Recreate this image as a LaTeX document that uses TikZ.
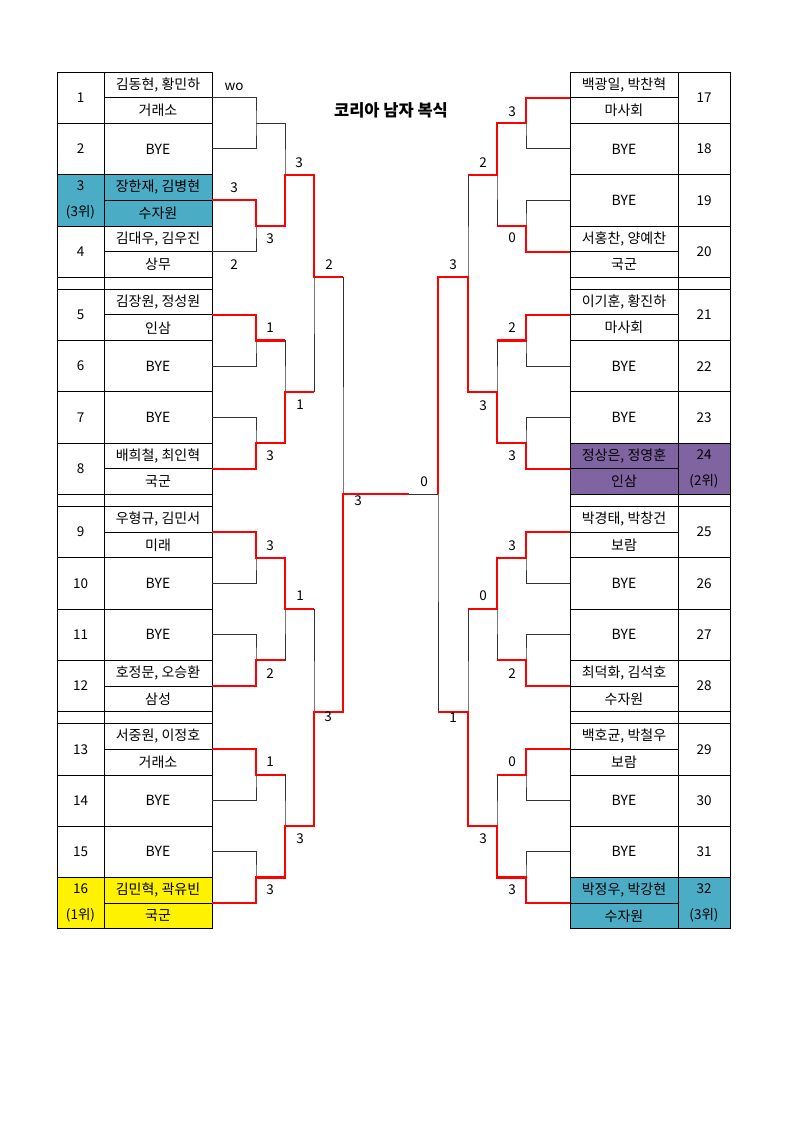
\documentclass[tikz,border=0pt]{standalone}
\usepackage{fontspec}
\setmainfont{Noto Sans CJK KR}
\usetikzlibrary{calc}

\definecolor{teamteal}{HTML}{4BACC6}
\definecolor{teampurple}{HTML}{8064A2}
\definecolor{winred}{HTML}{FF0000}

% top of table row #1 (0..15), four entries per block, small gap row between blocks
\newcommand{\rowy}[1]{(72+217.2*floor((#1)/4)+51.3*mod((#1),4))}

% id, row, number text, players, team, fill
\newcommand{\leftteam}[6]{%
  \node[numcell, minimum width=47, fill=#6] (n#1) at (57,{\rowy{#2}}) {#3};
  \node[namecell, fill=#6] (p#1) at (104,{\rowy{#2}}) {#4};
  \node[namecell, fill=#6] (t#1) at (p#1.south west) {#5};
  \coordinate (e#1) at (p#1.south east);}
\newcommand{\leftbye}[2]{%
  \node[numcell, minimum width=47] (n#1) at (57,{\rowy{#2}}) {#1};
  \node[byecell] (p#1) at (104,{\rowy{#2}}) {BYE};
  \coordinate (e#1) at (p#1.east);}
\newcommand{\rightteam}[6]{%
  \node[namecell, fill=#6] (p#1) at (570,{\rowy{#2}}) {#4};
  \node[namecell, fill=#6] (t#1) at (p#1.south west) {#5};
  \node[numcell, minimum width=52, fill=#6] (n#1) at (678,{\rowy{#2}}) {#3};
  \coordinate (e#1) at (p#1.south west);}
\newcommand{\rightbye}[2]{%
  \node[byecell] (p#1) at (570,{\rowy{#2}}) {BYE};
  \node[numcell, minimum width=52] (n#1) at (678,{\rowy{#2}}) {#1};
  \coordinate (e#1) at (p#1.west);}

\begin{document}
\begin{tikzpicture}[x=1pt, y=-1pt,
  font=\fontsize{14}{17}\selectfont,
  numcell/.style={draw, line width=0.8pt, anchor=north west, minimum height=51.3, inner sep=0pt, outer sep=0pt, align=center, font=\fontsize{13.5}{26}\selectfont},
  namecell/.style={draw, line width=0.8pt, anchor=north west, minimum width=108, minimum height=25.65, inner sep=0pt, outer sep=0pt},
  byecell/.style={namecell, minimum height=51.3},
  gapline/.style={line width=0.8pt},
  bline/.style={line width=1pt, black!80},
  rline/.style={line width=2.1pt, winred},
  score/.style={inner sep=0pt, font=\fontsize{13.5}{16}\selectfont}
]
\useasboundingbox (0,0) rectangle (794,1122);
\fill[white] (0,0) rectangle (794,1122);

\node[font=\bfseries\fontsize{16.5}{19}\selectfont] (title) at (391,110) {코리아 남자 복식};

% left half of the draw
\leftteam{1}{0}{1}{김동현, 황민하}{거래소}{white}
\leftbye{2}{1}
\leftteam{3}{2}{3\\(3위)}{장한재, 김병현}{수자원}{teamteal}
\leftteam{4}{3}{4}{김대우, 김우진}{상무}{white}
\leftteam{5}{4}{5}{김장원, 정성원}{인삼}{white}
\leftbye{6}{5}
\leftbye{7}{6}
\leftteam{8}{7}{8}{배희철, 최인혁}{국군}{white}
\leftteam{9}{8}{9}{우형규, 김민서}{미래}{white}
\leftbye{10}{9}
\leftbye{11}{10}
\leftteam{12}{11}{12}{호정문, 오승환}{삼성}{white}
\leftteam{13}{12}{13}{서중원, 이정호}{거래소}{white}
\leftbye{14}{13}
\leftbye{15}{14}
\leftteam{16}{15}{16\\(1위)}{김민혁, 곽유빈}{국군}{yellow}

% right half of the draw
\rightteam{17}{0}{17}{백광일, 박찬혁}{마사회}{white}
\rightbye{18}{1}
\rightbye{19}{2}
\rightteam{20}{3}{20}{서홍찬, 양예찬}{국군}{white}
\rightteam{21}{4}{21}{이기훈, 황진하}{마사회}{white}
\rightbye{22}{5}
\rightbye{23}{6}
\rightteam{24}{7}{24\\(2위)}{정상은, 정영훈}{인삼}{teampurple}
\rightteam{25}{8}{25}{박경태, 박창건}{보람}{white}
\rightbye{26}{9}
\rightbye{27}{10}
\rightteam{28}{11}{28}{최덕화, 김석호}{수자원}{white}
\rightteam{29}{12}{29}{백호균, 박철우}{보람}{white}
\rightbye{30}{13}
\rightbye{31}{14}
\rightteam{32}{15}{32\\(3위)}{박정우, 박강현}{수자원}{teamteal}

% empty rows between blocks
\foreach \g in {0,1,2} {
  \draw[gapline] (57,{\rowy{4*\g+3}+51.3}) rectangle (104,{\rowy{4*\g+4}});
  \draw[gapline] (104,{\rowy{4*\g+3}+51.3}) rectangle (212,{\rowy{4*\g+4}});
  \draw[gapline] (570,{\rowy{4*\g+3}+51.3}) rectangle (678,{\rowy{4*\g+4}});
  \draw[gapline] (678,{\rowy{4*\g+3}+51.3}) rectangle (730,{\rowy{4*\g+4}});
}

% bracket junctions
\foreach \j in {0,...,7} {
  \coordinate (la\j) at (256,{\rowy{2*\j+1}});
  \coordinate (ra\j) at (526,{\rowy{2*\j+1}});
}
\foreach \k in {0,...,3} {
  \coordinate (lb\k) at (285,{\rowy{4*\k+2}});
  \coordinate (rb\k) at (497,{\rowy{4*\k+2}});
}
\foreach \c in {0,1} {
  \coordinate (lc\c) at (314,{\rowy{8*\c+3}+51.3});
  \coordinate (rc\c) at (468,{\rowy{8*\c+3}+51.3});
}
\coordinate (ld) at (343,{\rowy{7}+51.3});
\coordinate (rd) at (438,{\rowy{7}+51.3});
\coordinate (fend) at ([xshift=66]ld);

% plain bracket
\foreach \j [evaluate=\j as \ia using int(2*\j+1), evaluate=\j as \ib using int(2*\j+2),
             evaluate=\j as \ic using int(2*\j+17), evaluate=\j as \id using int(2*\j+18)] in {0,...,7} {
  \draw[bline] (e\ia) -| (la\j) |- (e\ib);
  \draw[bline] (e\ic) -| (ra\j) |- (e\id);
}
\foreach \k [evaluate=\k as \ja using int(2*\k), evaluate=\k as \jb using int(2*\k+1)] in {0,...,3} {
  \draw[bline] (la\ja) -| (lb\k) |- (la\jb);
  \draw[bline] (ra\ja) -| (rb\k) |- (ra\jb);
}
\draw[bline] (lb0) -| (lc0) |- (lb1);
\draw[bline] (lb2) -| (lc1) |- (lb3);
\draw[bline] (rb0) -| (rc0) |- (rb1);
\draw[bline] (rb2) -| (rc1) |- (rb3);
\draw[bline] (lc0) -| (ld) |- (lc1);
\draw[bline] (rc0) -| (rd) |- (rc1);
\draw[bline] (ld) -- (rd);

% winners
\draw[rline] (e3) -| (la1) -| (lb0) -| (lc0) -- (ld |- lc0);
\draw[rline] (e5) -| (la2) -- (lb1 |- la2);
\draw[rline] (e8) -| (la3) -| (lb1) -- (lc0 |- lb1);
\draw[rline] (e9) -| (la4) -| (lb2) -- (lc1 |- lb2);
\draw[rline] (e12) -| (la5) -- (lb2 |- la5);
\draw[rline] (e13) -| (la6) -- (lb3 |- la6);
\draw[rline] (e16) -| (la7) -| (lb3) -| (lc1) -| (ld) -- (fend);
\draw[rline] (e17) -| (ra0) -| (rb0) -- (rc0 |- rb0);
\draw[rline] (e20) -| (ra1) -- (rb0 |- ra1);
\draw[rline] (e21) -| (ra2) -- (rb1 |- ra2);
\draw[rline] (e24) -| (ra3) -| (rb1) -| (rc0) -| (rd);
\draw[rline] (e25) -| (ra4) -| (rb2) -- (rc1 |- rb2);
\draw[rline] (e28) -| (ra5) -- (rb2 |- ra5);
\draw[rline] (e29) -| (ra6) -- (rb3 |- ra6);
\draw[rline] (e32) -| (ra7) -| (rb3) -| (rc1) -- (rd |- rc1);

% scores
\foreach \x/\y/\s [count=\n] in {234/87/wo, 234/188/3, 234/265/2, 299/163/3, 270/239/3, 329/265/2,
    270/328/1, 270/456/3, 300/405/1, 270/546/3, 270/674/2, 300/596/1, 328/717/3, 270/762/1,
    270/890/3, 300/839/3, 358/501/3, 424/482/0,
    512/112/3, 483/163/2, 512/238/0, 453/265/3, 512/328/2, 483/406/3, 512/456/3, 512/546/3,
    483/596/0, 512/674/2, 453/718/1, 512/762/0, 483/839/3, 512/890/3}
  \node[score] (s\n) at (\x,\y) {\s};
\end{tikzpicture}
\end{document}
